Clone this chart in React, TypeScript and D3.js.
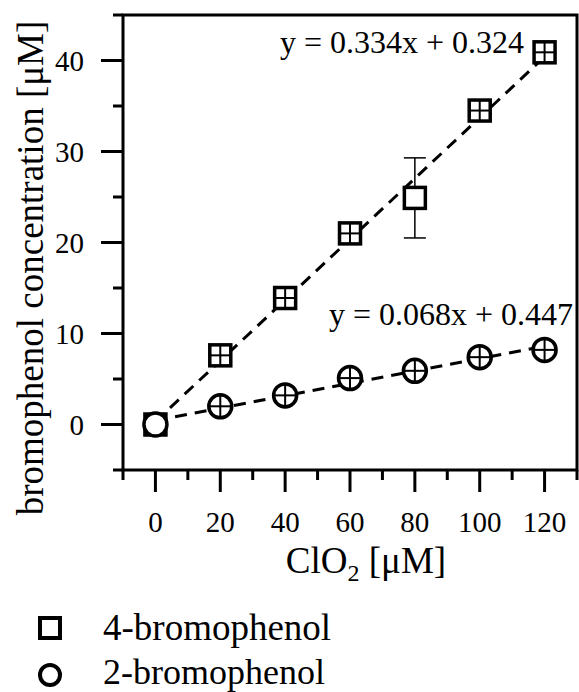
import React from "react";
import * as d3 from "d3";

const clo2 = [0, 20, 40, 60, 80, 100, 120];
const bromo4 = [0, 7.6, 13.9, 21.0, 24.9, 34.5, 40.9];
const bromo4Err = [0, 0, 0, 0, 4.4, 0, 0];
const bromo2 = [0, 2.0, 3.2, 5.1, 5.9, 7.4, 8.2];
const fit4 = { slope: 0.334, intercept: 0.324, label: "y = 0.334x + 0.324" };
const fit2 = { slope: 0.068, intercept: 0.447, label: "y = 0.068x + 0.447" };
const xMajorTicks = [0, 20, 40, 60, 80, 100, 120];
const xMinorTicks = [-10, 10, 30, 50, 70, 90, 110, 130];
const yMajorTicks = [0, 10, 20, 30, 40];
const yMinorTicks = [-5, 5, 15, 25, 35, 45];
const legendLabels = ["4-bromophenol", "2-bromophenol"];

const FONT = "'Liberation Serif', 'Times New Roman', serif";

export default function App() {
  const x = d3.scaleLinear().domain([-10, 130]).range([123, 577]);
  const y = d3.scaleLinear().domain([-5, 45]).range([470, 15]);
  const fitPath = (f: { slope: number; intercept: number }) =>
    d3
      .line<number>()
      .x((d) => x(d))
      .y((d) => y(f.slope * d + f.intercept))([0, 120]);

  const sq = 21;
  const r = 11.5;

  return (
    <svg
      width={579}
      height={692}
      style={{ position: "absolute", left: 0, top: 0, background: "#fff" }}
      fontFamily={FONT}
    >
      {/* fit lines */}
      <path d={fitPath(fit4) || ""} fill="none" stroke="#000" strokeWidth={3} strokeDasharray="12 8" />
      <path d={fitPath(fit2) || ""} fill="none" stroke="#000" strokeWidth={3} strokeDasharray="12 8" />

      {/* error bars */}
      {clo2.map((c, i) =>
        bromo4Err[i] > 0 ? (
          <g key={"e" + i} stroke="#000" strokeWidth={1.5}>
            <line x1={x(c)} x2={x(c)} y1={y(bromo4[i] + bromo4Err[i])} y2={y(bromo4[i] - bromo4Err[i])} />
            <line x1={x(c) - 11} x2={x(c) + 11} y1={y(bromo4[i] + bromo4Err[i])} y2={y(bromo4[i] + bromo4Err[i])} />
            <line x1={x(c) - 11} x2={x(c) + 11} y1={y(bromo4[i] - bromo4Err[i])} y2={y(bromo4[i] - bromo4Err[i])} />
          </g>
        ) : null
      )}

      {/* 4-bromophenol squares */}
      {clo2.map((c, i) => (
        <g key={"s" + i}>
          <rect
            x={x(c) - sq / 2}
            y={y(bromo4[i]) - sq / 2}
            width={sq}
            height={sq}
            fill="#fff"
            stroke="#000"
            strokeWidth={3.5}
          />
          {bromo4Err[i] === 0 && i > 0 ? (
            <g stroke="#000" strokeWidth={2}>
              <line x1={x(c)} x2={x(c)} y1={y(bromo4[i]) - sq / 2} y2={y(bromo4[i]) + sq / 2} />
              <line x1={x(c) - sq / 2} x2={x(c) + sq / 2} y1={y(bromo4[i])} y2={y(bromo4[i])} />
            </g>
          ) : null}
        </g>
      ))}

      {/* 2-bromophenol circles */}
      {clo2.map((c, i) => (
        <g key={"c" + i}>
          <circle cx={x(c)} cy={y(bromo2[i])} r={r} fill="#fff" stroke="#000" strokeWidth={3.5} />
          {i > 0 ? (
            <g stroke="#000" strokeWidth={2}>
              <line x1={x(c)} x2={x(c)} y1={y(bromo2[i]) - r} y2={y(bromo2[i]) + r} />
              <line x1={x(c) - r} x2={x(c) + r} y1={y(bromo2[i])} y2={y(bromo2[i])} />
            </g>
          ) : null}
        </g>
      ))}

      {/* frame */}
      <rect x={123} y={15} width={454} height={455} fill="none" stroke="#000" strokeWidth={3} />

      {/* y ticks */}
      {yMajorTicks.map((t) => (
        <g key={"ym" + t}>
          <line x1={101} x2={123} y1={y(t)} y2={y(t)} stroke="#000" strokeWidth={3} />
          <text x={84} y={y(t) + 10} textAnchor="end" fontSize={29}>
            {t}
          </text>
        </g>
      ))}
      {yMinorTicks.map((t) => (
        <line key={"yn" + t} x1={113} x2={123} y1={y(t)} y2={y(t)} stroke="#000" strokeWidth={3} />
      ))}

      {/* x ticks */}
      {xMajorTicks.map((t) => (
        <g key={"xm" + t}>
          <line x1={x(t)} x2={x(t)} y1={470} y2={492} stroke="#000" strokeWidth={3} />
          <text x={x(t)} y={532} textAnchor="middle" fontSize={29}>
            {t}
          </text>
        </g>
      ))}
      {xMinorTicks.map((t) => (
        <line key={"xn" + t} x1={x(t)} x2={x(t)} y1={470} y2={480} stroke="#000" strokeWidth={3} />
      ))}

      {/* axis titles */}
      <text x={366} y={573} textAnchor="middle" fontSize={37}>
        ClO<tspan fontSize={24} dy={8}>2</tspan>
        <tspan dy={-8}> [μM]</tspan>
      </text>
      <text transform="translate(43,268) rotate(-90)" textAnchor="middle" fontSize={37}>
        bromophenol concentration [μM]
      </text>

      {/* equations */}
      <text x={280} y={53} fontSize={32}>
        {fit4.label}
      </text>
      <text x={573} y={325} textAnchor="end" fontSize={32}>
        {fit2.label}
      </text>

      {/* legend */}
      <rect x={40} y={618} width={20} height={20} fill="#fff" stroke="#000" strokeWidth={4} />
      <text x={103} y={640} fontSize={37}>
        {legendLabels[0]}
      </text>
      <circle cx={50} cy={675} r={10} fill="#fff" stroke="#000" strokeWidth={4} />
      <text x={103} y={684} fontSize={36}>
        {legendLabels[1]}
      </text>
    </svg>
  );
}
